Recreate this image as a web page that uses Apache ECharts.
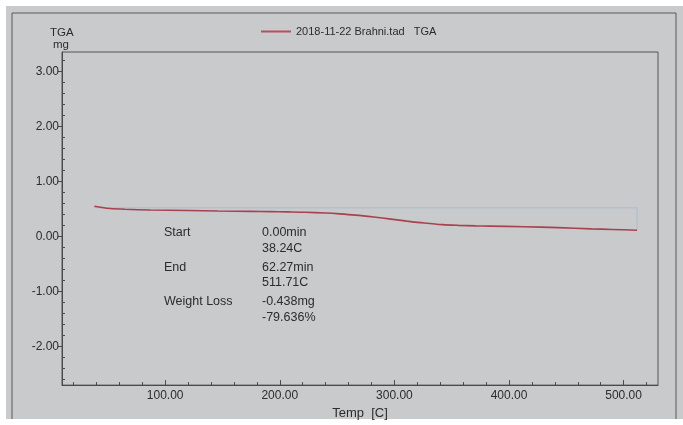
<!DOCTYPE html>
<html>
<head>
<meta charset="utf-8">
<title>TGA</title>
<script src="https://cdn.jsdelivr.net/npm/echarts@6/dist/echarts.min.js"></script>
<style>
  html, body { margin: 0; padding: 0; background: #ffffff; }
  #chart { width: 683px; height: 425px; }
</style>
</head>
<body>
<div id="chart"></div>
<script>
// TGA run: sample temperature (C) and residual mass (mg)
const temps = [38.24, 45, 52, 65, 87, 120, 146, 175, 192, 206, 222, 240, 252, 266,
               282, 297, 311, 326, 342, 356, 371, 383, 413, 443, 472, 490, 511.71];
const mass  = [0.550, 0.525, 0.507, 0.494, 0.480, 0.470, 0.462, 0.455, 0.451, 0.446,
               0.440, 0.425, 0.410, 0.387, 0.352, 0.315, 0.279, 0.244, 0.214, 0.201,
               0.192, 0.188, 0.176, 0.160, 0.138, 0.127, 0.112];

// Step-analysis bracket: reference level and the end point of the step
const stepLevel = 0.52;
const stepStart = 38.24;
const stepEnd = 511.71;
const stepEndMass = 0.112;

// Axis ticks
const xMajor = [100, 200, 300, 400, 500];
const xMinorStep = 20;
const yMajor = [-2, -1, 0, 1, 2, 3];
const yMinorStep = 0.2;
const xRange = [10, 530];
const yRange = [-2.7, 3.35];

// Result table printed inside the plot
const resultLabels = ['Start', '', 'End', '', 'Weight Loss', ''];
const resultValues = ['0.00min', '38.24C', '62.27min', '511.71C', '-0.438mg', '-79.636%'];

const seriesName = '2018-11-22 Brahni.tad   TGA';

function minorValues(lo, hi, step, majors) {
  const out = [];
  const start = Math.ceil(lo / step - 1e-9);
  for (let k = start; k * step <= hi + 1e-9; k++) {
    const v = +(k * step).toFixed(6);
    if (v <= lo || v >= hi) continue;
    if (majors.some(m => Math.abs(m - v) < 1e-6)) continue;
    out.push(v);
  }
  return out;
}

const xMinor = minorValues(xRange[0], xRange[1], xMinorStep, xMajor);
const yMinor = minorValues(yRange[0], yRange[1], yMinorStep, yMajor);

const ink = '#2c2c2c';
const axisInk = '#4a4a4a';
const font = 'Liberation Sans, Arial, sans-serif';

const curve = temps.map((t, i) => [t, mass[i]]);
const bracket = [[stepStart, stepLevel], [stepEnd, stepLevel], [stepEnd, stepEndMass]];

const rowY = [233, 249, 268, 283, 302, 318];
const tableTexts = [];
rowY.forEach((y, i) => {
  if (resultLabels[i]) {
    tableTexts.push({
      type: 'text', left: 164, top: y - 7,
      style: { text: resultLabels[i], fill: ink, font: '12.5px ' + font }
    });
  }
  tableTexts.push({
    type: 'text', left: 262, top: y - 7,
    style: { text: resultValues[i], fill: ink, font: '12.5px ' + font }
  });
});

const chart = echarts.init(document.getElementById('chart'), null, { renderer: 'canvas' });

chart.setOption({
  backgroundColor: '#ffffff',
  animation: false,
  textStyle: { fontFamily: font },
  grid: {
    left: 62, top: 52, right: 25, bottom: 34,
    show: true, borderColor: '#555555', borderWidth: 1, backgroundColor: 'transparent'
  },
  legend: {
    data: [seriesName],
    left: 256, top: 21,
    icon: 'rect', itemWidth: 30, itemHeight: 2, itemGap: 8,
    textStyle: { color: ink, fontSize: 11, fontFamily: font }
  },
  graphic: [
    // paper
    { type: 'rect', z: -100, shape: { x: 6, y: 6, width: 677, height: 413 },
      style: { fill: '#c8cacb' } },
    // outer frame of the printout
    { type: 'polyline', z: -50,
      shape: { points: [[12, 419], [12, 13], [676, 13], [676, 419]] },
      style: { stroke: '#5a5a5a', lineWidth: 1, fill: null } },
    // y-axis title
    { type: 'text', left: 50, top: 27,
      style: { text: 'TGA', fill: ink, font: '11.5px ' + font } },
    { type: 'text', left: 53, top: 39,
      style: { text: 'mg', fill: ink, font: '11.5px ' + font } }
  ].concat(tableTexts),
  xAxis: [
    {
      type: 'value', position: 'bottom', min: xRange[0], max: xRange[1],
      name: 'Temp  [C]', nameLocation: 'middle', nameGap: 16,
      nameTextStyle: { color: ink, fontSize: 13, fontFamily: font },
      axisLine: { show: true, onZero: false, lineStyle: { color: axisInk, width: 1 } },
      axisTick: { show: true, inside: true, length: 5, customValues: xMajor,
                  lineStyle: { color: axisInk } },
      axisLabel: { show: true, customValues: xMajor, margin: 5, color: ink, fontSize: 12,
                   formatter: v => v.toFixed(2) },
      splitLine: { show: false }
    },
    {
      type: 'value', position: 'bottom', min: xRange[0], max: xRange[1],
      axisLine: { show: false, onZero: false },
      axisTick: { show: true, inside: true, length: 3, customValues: xMinor,
                  lineStyle: { color: axisInk } },
      axisLabel: { show: false },
      splitLine: { show: false }
    }
  ],
  yAxis: [
    {
      type: 'value', position: 'left', min: yRange[0], max: yRange[1],
      axisLine: { show: true, onZero: false, lineStyle: { color: axisInk, width: 1 } },
      axisTick: { show: true, inside: false, length: 4, customValues: yMajor,
                  lineStyle: { color: axisInk } },
      axisLabel: { show: true, customValues: yMajor, margin: 3, color: ink, fontSize: 12,
                   formatter: v => v.toFixed(2) },
      splitLine: { show: false }
    },
    {
      type: 'value', position: 'left', min: yRange[0], max: yRange[1],
      axisLine: { show: false, onZero: false },
      axisTick: { show: true, inside: true, length: 3, customValues: yMinor,
                  lineStyle: { color: axisInk } },
      axisLabel: { show: false },
      splitLine: { show: false }
    }
  ],
  series: [
    {
      name: 'step',
      type: 'line', xAxisIndex: 0, yAxisIndex: 0,
      data: bracket, showSymbol: false, silent: true,
      lineStyle: { color: '#a9bccf', width: 1 },
      z: 1
    },
    {
      name: seriesName,
      type: 'line', xAxisIndex: 0, yAxisIndex: 0,
      data: curve, smooth: 0.3, showSymbol: false,
      itemStyle: { color: '#b8505c' },
      lineStyle: { color: '#a8424f', width: 1.6 },
      z: 3
    }
  ]
});
</script>
</body>
</html>
